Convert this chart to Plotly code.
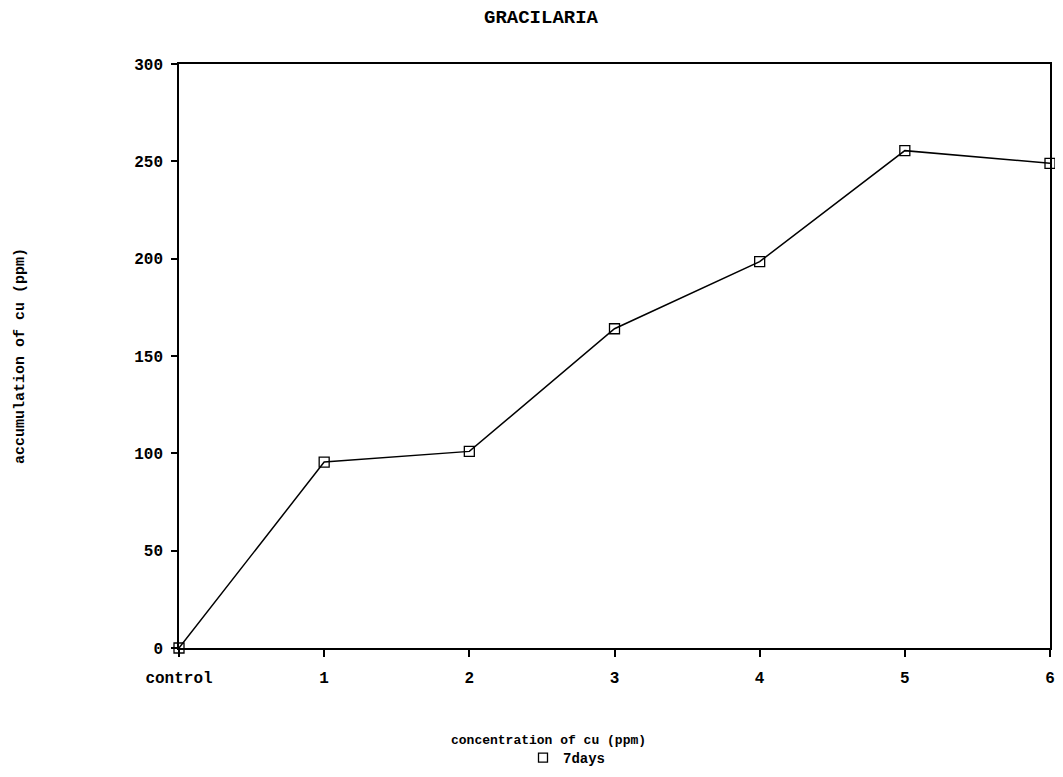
import plotly.graph_objects as go

categories = ["control", "1", "2", "3", "4", "5", "6"]
accumulation = [0, 95.5, 101, 164, 198.5, 255.5, 249]
series_name = "7days"
y_ticks = [0, 50, 100, 150, 200, 250, 300]

x_pos = list(range(len(categories)))
font_mono = "Liberation Mono, DejaVu Sans Mono, monospace"
txt = dict(family=font_mono, size=14, color="black", weight="bold")

# page body has an 8px margin; figure coords = reference coords - 8
OFF = 8
W, H = 1047, 761
L, T = 179 - OFF, 64 - OFF
R = W - (1050 - OFF)
B = H - (648 - OFF)
pw, ph = W - L - R, H - T - B

fig = go.Figure()
fig.add_trace(go.Scatter(
    x=x_pos, y=accumulation, mode="lines+markers",
    line=dict(color="black", width=1.5),
    marker=dict(symbol="square-open", size=10, color="black", line=dict(width=1.3)),
    showlegend=False, cliponaxis=False,
))
fig.add_trace(go.Scatter(
    x=[None], y=[None], mode="markers", name=series_name,
    marker=dict(symbol="square-open", size=9, color="black", line=dict(width=1.3)),
))

fig.update_layout(
    width=W, height=H,
    margin=dict(l=L, r=R, t=T, b=B, autoexpand=False),
    paper_bgcolor="white", plot_bgcolor="white",
    font=txt,
    title=dict(text="GRACILARIA", xref="container", x=(541 - OFF) / W, xanchor="center",
               yref="container", y=1 - (16 - OFF) / H, yanchor="middle",
               font=dict(family=font_mono, size=19, color="black", weight="bold")),
    showlegend=True,
    legend=dict(orientation="h", xref="container", x=(567 - OFF) / W, xanchor="center",
                yref="container", y=1 - (758 - OFF) / H, yanchor="middle",
                font=txt, bgcolor="rgba(0,0,0,0)"),
    annotations=[
        dict(text="concentration of cu (ppm)", xref="paper", yref="paper",
             x=(548 - OFF - L) / pw, y=(H - B - (740 - OFF)) / ph,
             xanchor="center", yanchor="middle", showarrow=False,
             font=dict(family=font_mono, size=13, color="black", weight="bold")),
        dict(text="accumulation of cu (ppm)", xref="paper", yref="paper",
             x=(20 - OFF - L) / pw, y=0.5, xanchor="center", yanchor="middle",
             textangle=-90, showarrow=False,
             font=dict(family=font_mono, size=15, color="black", weight="bold")),
    ],
)
fig.update_xaxes(
    range=[0, 6], tickvals=x_pos, ticktext=categories, automargin=False,
    showgrid=False, zeroline=False, showline=True, linecolor="black", linewidth=1.5,
    mirror=True, ticks="outside", ticklen=7, tickcolor="black", tickwidth=1.5,
    ticklabelstandoff=7,
    tickfont=dict(family=font_mono, size=16, color="black", weight="bold"),
)
fig.update_yaxes(
    range=[0, 300], tickvals=y_ticks, automargin=False,
    showgrid=False, zeroline=False, showline=True, linecolor="black", linewidth=1.5,
    mirror=True, ticks="outside", ticklen=6, tickcolor="black", tickwidth=1.5,
    ticklabelstandoff=5,
    tickfont=dict(family=font_mono, size=16, color="black", weight="bold"),
)

fig.write_html("out.html")
